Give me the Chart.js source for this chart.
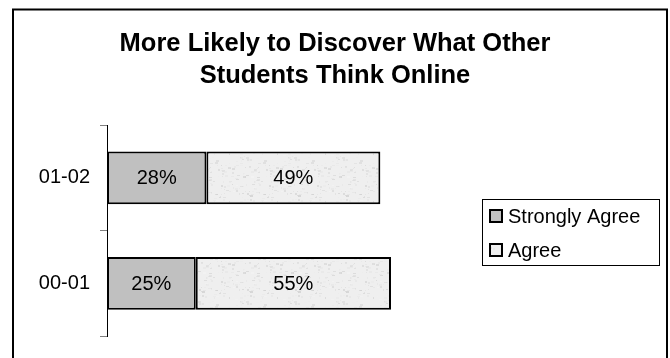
<!DOCTYPE html>
<html>
<head>
<meta charset="utf-8">
<script src="https://cdn.jsdelivr.net/npm/chart.js@4/dist/chart.umd.min.js"></script>
<style>
  body { margin: 0; background: #fff; }
  #wrap { width: 670px; height: 358px; }
</style>
</head>
<body>
<div id="wrap"><canvas id="graph1" width="670" height="358"></canvas></div>
<script>
// school years, top to bottom
let years = ["01-02", "00-01"];
let seriesNames = ["Strongly Agree", "Agree"];
let stronglyAgree = [28, 25];
let agree = [49, 55];
let titleLines = ["More Likely to Discover What Other", "Students Think Online"];

let fontFam = "'Liberation Sans', Arial, sans-serif";

// light speckled fill for the "Agree" pieces
function speckle() {
    let tile = document.createElement("canvas");
    tile.width = 48;
    tile.height = 48;
    let t = tile.getContext("2d");
    t.fillStyle = "#efefef";
    t.fillRect(0, 0, 48, 48);
    let seed = 7;
    const next = () => { seed = (seed * 1103515245 + 12345) % 2147483648; return seed / 2147483648; };
    for (let k = 0; k < 140; k++) {
        let g = 205 + Math.floor(next() * 40);
        t.fillStyle = "rgba(" + g + "," + g + "," + g + ",0.6)";
        t.fillRect(Math.floor(next() * 48), Math.floor(next() * 48), 1 + Math.floor(next() * 3), 1 + Math.floor(next() * 2));
    }
    return t.createPattern(tile, "repeat");
}

let ctx = document.getElementById("graph1").getContext("2d");
let colors = ["#c0c0c0", speckle()];

// border round the whole drawing, and the two title lines
const framePlugin = {
    id: "frame",
    beforeDraw(chart) {
        let c = chart.ctx;
        c.save();
        c.strokeStyle = "#000";
        c.lineWidth = 2;
        c.beginPath();
        c.moveTo(13, 370);
        c.lineTo(13, 9.5);
        c.lineTo(667, 9.5);
        c.lineTo(667, 370);
        c.stroke();
        c.font = "bold 25.5px " + fontFam;
        c.fillStyle = "#000";
        c.textAlign = "center";
        c.textBaseline = "middle";
        titleLines.forEach((line, i) => c.fillText(line, 335, 44 + i * 32));
        c.restore();
    }
};

// percent text in the middle of every bar piece
const valuePlugin = {
    id: "values",
    afterDatasetsDraw(chart) {
        let c = chart.ctx;
        c.save();
        c.font = "20px " + fontFam;
        c.fillStyle = "#000";
        c.textAlign = "center";
        c.textBaseline = "middle";
        chart.data.datasets.forEach((ds, i) => {
            chart.getDatasetMeta(i).data.forEach((bar, j) => {
                let p = bar.getProps(["x", "y", "base"], true);
                c.fillText(ds.data[j] + "%", (p.x + p.base) / 2, p.y + 1);
            });
        });
        c.restore();
    }
};

// boxed legend on the right
const legendPlugin = {
    id: "boxLegend",
    afterDraw(chart) {
        let c = chart.ctx;
        c.save();
        c.strokeStyle = "#000";
        c.lineWidth = 1;
        c.strokeRect(482.5, 199.5, 177, 66);
        c.font = "20px " + fontFam;
        c.textBaseline = "middle";
        chart.data.datasets.forEach((ds, i) => {
            let y = 216 + i * 34;
            c.fillStyle = ds.backgroundColor;
            c.fillRect(490, y - 6, 12, 12);
            c.lineWidth = 2;
            c.strokeRect(490, y - 6, 12, 12);
            c.fillStyle = "#000";
            c.fillText(ds.label, 508, y + 1);
        });
        c.restore();
    }
};

let datagraph = [stronglyAgree, agree].map((vals, i) => ({
    label: seriesNames[i],
    data: vals,
    backgroundColor: colors[i],
    borderColor: "#000",
    borderWidth: 2,
    borderSkipped: false,
    categoryPercentage: 1,
    barPercentage: 0.5
}));

let chart = new Chart(ctx, {
    type: "bar",
    data: {
        labels: years,
        datasets: datagraph
    },
    options: {
        indexAxis: "y",
        responsive: false,
        animation: false,
        layout: { padding: { top: 125, right: 208, bottom: 18, left: 0 } },
        plugins: {
            legend: { display: false },
            tooltip: { enabled: false },
            title: { display: false }
        },
        scales: {
            x: {
                stacked: true,
                min: 0,
                max: 100,
                display: false
            },
            y: {
                stacked: true,
                afterFit: (s) => { s.width = 107; },
                border: { color: "#000", width: 1 },
                grid: {
                    offset: true,
                    drawOnChartArea: false,
                    tickLength: 7,
                    tickColor: "#808080"
                },
                ticks: {
                    color: "#000",
                    padding: 10,
                    font: { family: fontFam, size: 20 }
                }
            }
        }
    },
    plugins: [framePlugin, valuePlugin, legendPlugin]
});
</script>
</body>
</html>
